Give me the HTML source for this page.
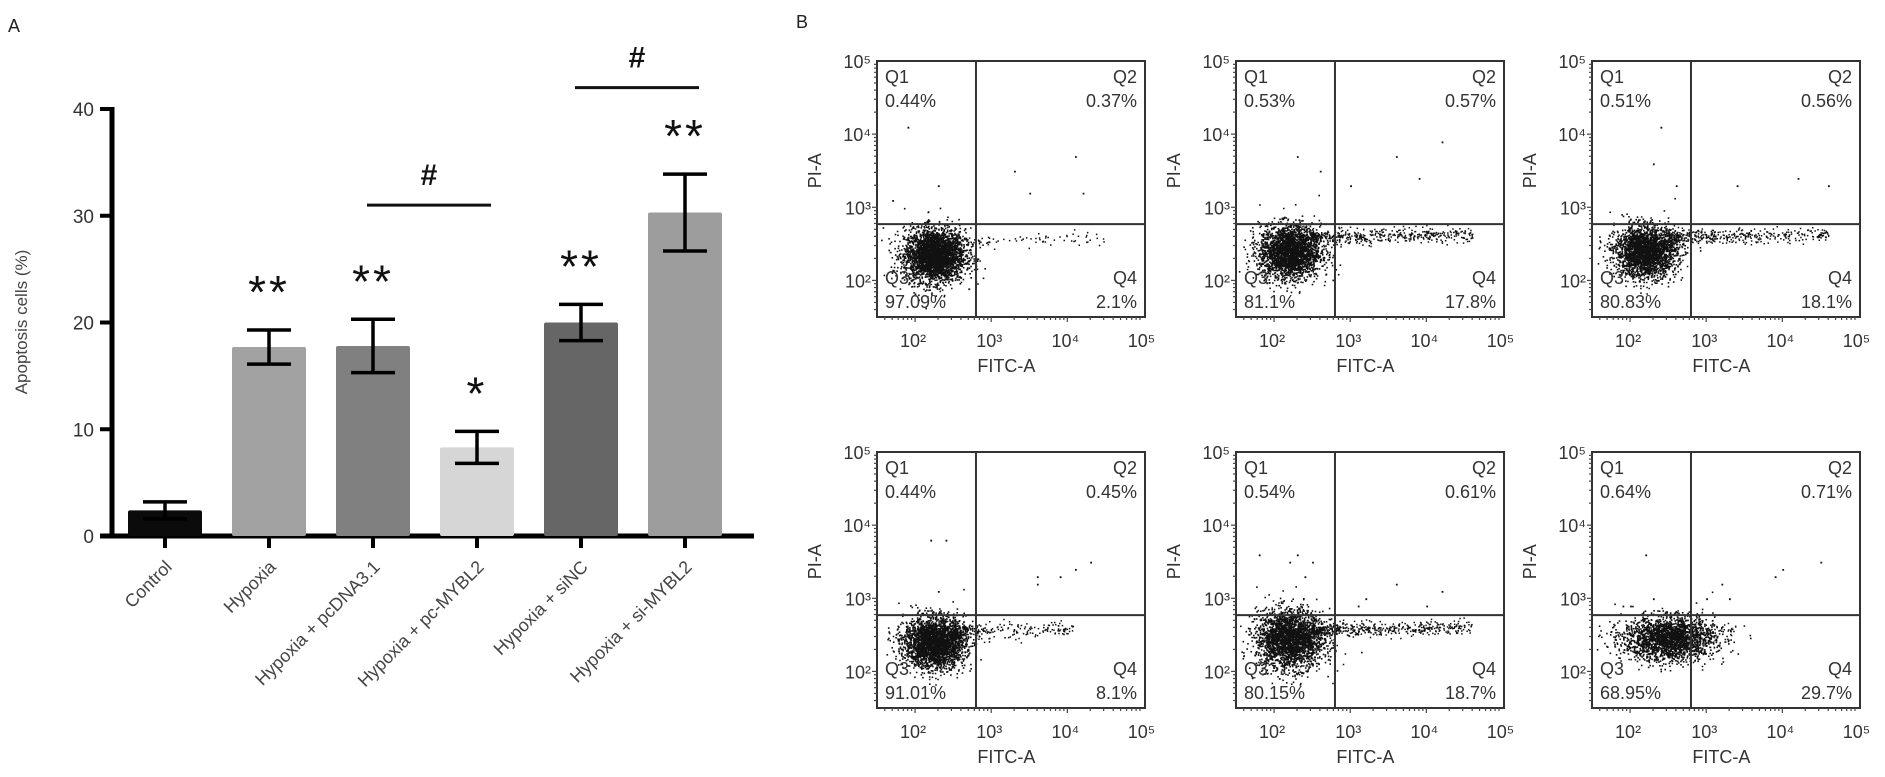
<!DOCTYPE html>
<html><head><meta charset="utf-8"><style>
body{margin:0;background:#fff;}
svg{display:block;font-family:"Liberation Sans",Arial,sans-serif;}
</style></head><body>
<svg id="fig" width="1885" height="777" viewBox="0 0 1885 777" xmlns="http://www.w3.org/2000/svg">
<text x="8" y="32" font-size="18" fill="#222">A</text>
<text x="796" y="28" font-size="18" fill="#222">B</text>
<g id="bar"></g>
<g id="flow"></g>
</svg>
<script>
const NS="http://www.w3.org/2000/svg";
// ---- bar chart data ----
const categories=["Control","Hypoxia","Hypoxia + pcDNA3.1","Hypoxia + pc-MYBL2","Hypoxia + siNC","Hypoxia + si-MYBL2"];
const means=[2.4,17.7,17.8,8.3,20.0,30.3];
const errors=[0.8,1.6,2.5,1.5,1.7,3.6];
const stars=["","**","**","*","**","**"];
const yTicks=[0,10,20,30,40];
const barColors=["#0b0b0b","#a2a2a2","#808080","#d6d6d6","#666666","#9d9d9d"];
const sigPairs=[[2,3],[4,5]];
const sigHeights=[31,42];

// ---- flow data ----
const q1=[0.44,0.53,0.51,0.44,0.54,0.64];
const q2=[0.37,0.57,0.56,0.45,0.61,0.71];
const q3=[97.09,81.1,80.83,91.01,80.15,68.95];
const q4=[2.1,17.8,18.1,8.1,18.7,29.7];
const clusterX=[2.25,2.2,2.2,2.25,2.2,2.5];
const clusterY=[2.35,2.4,2.4,2.4,2.45,2.45];
const clusterSX=[0.2,0.2,0.2,0.2,0.22,0.3];
const clusterSY=[0.18,0.18,0.17,0.17,0.2,0.15];
const tailEnd=[4.5,4.6,4.6,4.1,4.6,3.4];
const tailCount=[90,480,450,240,500,120];
const tailY=[2.55,2.6,2.6,2.55,2.58,2.55];
const sparseX=[[1.9,2.3,1.7,3.3,3.5,4.1,4.2],[2.3,2.6,3.0,3.6,3.9,4.2],[2.4,2.3,2.6,3.4,4.2,4.6],[2.2,2.4,2.3,3.6,3.6,3.9,4.1,4.3],[1.8,2.2,2.3,2.4,2.5,3.1,3.2,3.6,4.0,4.2],[2.2,2.3,1.9,2.0,3.0,3.2,3.3,3.9,4.0,4.5]];
const sparseY=[[4.1,3.3,3.1,3.5,3.2,3.7,3.2],[3.7,3.5,3.3,3.7,3.4,3.9],[4.1,3.6,3.3,3.3,3.4,3.3],[3.8,3.8,3.1,3.3,3.2,3.3,3.4,3.5],[3.6,3.5,3.6,3.3,3.5,2.9,3.0,3.2,2.9,3.1],[3.6,3.0,2.9,2.9,3.0,3.2,3.0,3.3,3.4,3.5]];

function el(tag,attrs,parent){const e=document.createElementNS(NS,tag);for(const k in attrs)e.setAttribute(k,attrs[k]);parent.appendChild(e);return e;}

// ---- bar chart ----
const bar=document.getElementById("bar");
const x0=112,y0=536,yTop=109,axisRight=754,step=104,firstC=165,bw=74;
const ys=v=>y0-(v/40)*(y0-yTop);
const xc=i=>firstC+i*step;
let a=el("line",{x1:x0,y1:yTop-2,x2:x0,y2:y0+2,stroke:"#000","stroke-width":5},bar);


a=el("line",{x1:x0-12,y1:y0,x2:axisRight,y2:y0,stroke:"#000","stroke-width":5},bar);


yTicks.forEach(t=>{
  const l=el("line",{x1:x0-12,y1:ys(t),x2:x0,y2:ys(t),stroke:"#000","stroke-width":4},bar);
  
  
  const tx=el("text",{x:x0-18,y:ys(t)+7,"font-size":19,"text-anchor":"end",fill:"#333"},bar);
  tx.textContent=t;
  
  
});
const yl=el("text",{x:0,y:0,"font-size":17,"text-anchor":"middle",fill:"#444",transform:"translate(27,322) rotate(-90)"},bar);
yl.textContent="Apoptosis cells (%)";


categories.forEach((c,i)=>{
  const cx=xc(i);
  const r=el("rect",{x:cx-bw/2,y:ys(means[i]),width:bw,height:y0-ys(means[i]),fill:barColors[i],rx:2},bar);
  
  
  const hi=ys(means[i]+errors[i]),lo=ys(means[i]-errors[i]);
  const eg=el("g",{stroke:"#000","stroke-width":3.5},bar);
  
  
  el("line",{x1:cx,y1:hi,x2:cx,y2:lo},eg);
  el("line",{x1:cx-22,y1:hi,x2:cx+22,y2:hi},eg);
  el("line",{x1:cx-22,y1:lo,x2:cx+22,y2:lo},eg);
  const tk=el("line",{x1:cx,y1:y0,x2:cx,y2:y0+12,stroke:"#000","stroke-width":4},bar);
  
  
  const lab=el("text",{x:0,y:0,"font-size":18,"text-anchor":"end",fill:"#444",transform:`translate(${cx+8},${y0+32}) rotate(-45)`},bar);
  lab.textContent=c;
  
  
  if(stars[i]){
    const s=el("text",{x:cx,y:hi-22,"font-size":46,"text-anchor":"middle",fill:"#111","letter-spacing":"3"},bar);
    s.textContent=stars[i];
    
    
  }
});
sigPairs.forEach((p,k)=>{
  const y=ys(sigHeights[k]);
  const l=el("line",{x1:xc(p[0])-6,y1:y,x2:xc(p[1])+14,y2:y,stroke:"#111","stroke-width":3},bar);
  
  
  const t=el("text",{x:(xc(p[0])+xc(p[1]))/2+4,y:y-20,"font-size":30,"text-anchor":"middle",fill:"#111","font-weight":"bold"},bar);
  t.textContent="#";
  
  
});

// ---- flow panels ----
const flow=document.getElementById("flow");
const lefts=[877,1236,1592,877,1236,1592];
const tops=[61,61,61,452,452,452];
const W=268,H=256,xmin=1.5,xmax=5.02,ymin=1.5,ymax=5,gateX=2.8,gateY=2.77;
let seed=12345;
function rnd(){seed=(seed*1103515245+12345)%2147483648;return seed/2147483648;}
function gauss(){let u=rnd()||1e-6,v=rnd();return Math.sqrt(-2*Math.log(u))*Math.cos(2*Math.PI*v);}
const sup={2:"²",3:"³",4:"⁴",5:"⁵"};
for(let p=0;p<6;p++){
  const L=lefts[p],T=tops[p];
  const g=el("g",{},flow);
  
  
  const sx=v=>L+(v-xmin)/(xmax-xmin)*W;
  const sy=v=>T+(ymax-v)/(ymax-ymin)*H;
  let d="";
  const dot=(x,y,s)=>{if(x<xmin+0.03||x>xmax-0.02||y<ymin+0.03||y>ymax)return;const px=sx(x),py=sy(y);d+=`M${px.toFixed(1)} ${py.toFixed(1)}h${s}v${s}h-${s}z`;};
  const n=Math.round(q3[p]*32);
  for(let i=0;i<n;i++)dot(clusterX[p]+gauss()*clusterSX[p],clusterY[p]+gauss()*clusterSY[p],1.6);
  for(let i=0;i<tailCount[p];i++){const t=Math.pow(rnd(),1.6);dot(gateX-0.3+t*(tailEnd[p]-gateX+0.3),tailY[p]+gauss()*0.05+t*0.03,1.5);}
  sparseX[p].forEach((x,i)=>dot(x,sparseY[p][i],1.8));
  const pts=el("path",{d:d,fill:"#111"},g);
  
  
  const box=el("rect",{x:L,y:T,width:W,height:H,fill:"none",stroke:"#333","stroke-width":2},g);
  
  
  const gv=el("line",{x1:sx(gateX),y1:T,x2:sx(gateX),y2:T+H,stroke:"#333","stroke-width":2},g);
  
  
  const gh=el("line",{x1:L,y1:sy(gateY),x2:L+W,y2:sy(gateY),stroke:"#333","stroke-width":2},g);
  
  
  for(let k=2;k<=5;k++){
    const t=el("text",{x:sx(k)-2,y:T+H+30,"font-size":18,"text-anchor":"middle",fill:"#333"},g);
    t.textContent="10"+sup[k];
    
    
    for(let m=1;m<10;m++){const v=k-1+Math.log10(m);if(v<xmin)continue;el("line",{x1:sx(v),y1:T+H,x2:sx(v),y2:T+H+(m==1?5:3),stroke:"#444","stroke-width":1.2},g);}
    const ty=el("text",{x:L-6,y:sy(k)+7,"font-size":18,"text-anchor":"end",fill:"#333"},g);
    ty.textContent="10"+sup[k];
    
    
    for(let m=1;m<10;m++){const v=k-1+Math.log10(m);if(v<ymin)continue;el("line",{x1:L,y1:sy(v),x2:L-(m==1?5:3),y2:sy(v),stroke:"#444","stroke-width":1.2},g);}
  }
  const xt=el("text",{x:sx(3.2),y:T+H+55,"font-size":18,"text-anchor":"middle",fill:"#333"},g);
  xt.textContent="FITC-A";
  
  
  const yt=el("text",{x:0,y:0,"font-size":18,"text-anchor":"middle",fill:"#333",transform:`translate(${L-56},${sy(3.5)}) rotate(-90)`},g);
  yt.textContent="PI-A";
  
  
  const qs=[["Q1",q1[p]+"%",L+8,T+22,"start"],["Q2",q2[p]+"%",L+W-8,T+22,"end"],["Q3",q3[p]+"%",L+8,T+H-33,"start"],["Q4",q4[p]+"%",L+W-8,T+H-33,"end"]];
  qs.forEach((q,i)=>{
    const a1=el("text",{x:q[2],y:q[3],"font-size":18,"text-anchor":q[4],fill:"#333"},g);
    a1.textContent=q[0];
    
    
    const a2=el("text",{x:q[2],y:q[3]+24,"font-size":18,"text-anchor":q[4],fill:"#333"},g);
    a2.textContent=q[1];
    
    
  });
}
</script>
</body></html>
